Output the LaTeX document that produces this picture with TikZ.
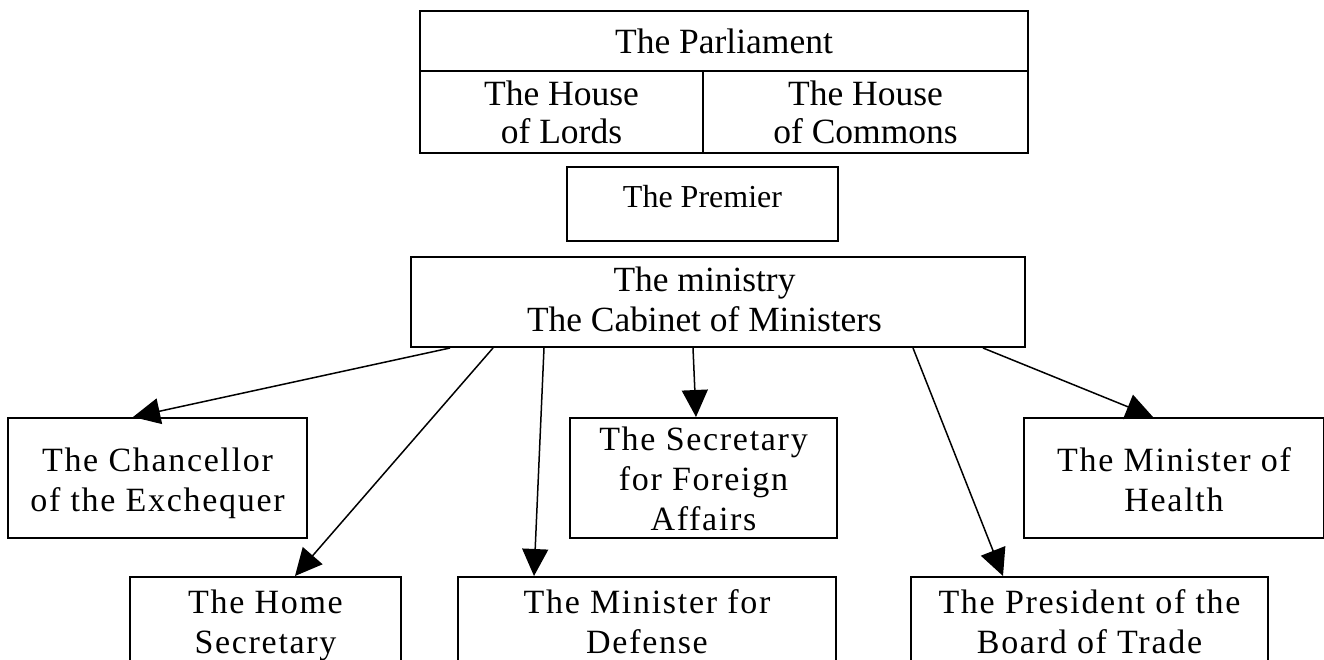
\documentclass[tikz,border=0pt]{standalone}
\usepackage{fontspec}
\setmainfont{Liberation Serif}
\newfontfamily\boxfont[LetterSpace=5]{Liberation Serif}
\usetikzlibrary{arrows.meta}
\tikzset{
  box/.style={draw, line width=2pt, inner sep=0pt, align=center, anchor=north west},
  topfont/.style={font=\fontsize{35.5}{38}\selectfont},
  premfont/.style={font=\fontsize{32}{38}\selectfont},
  minfont/.style={font=\fontsize{35.4}{40}\selectfont},
  lowfont/.style={font=\boxfont\fontsize{34}{40}\selectfont},
  arr/.style={line width=1.5pt, -{Triangle[length=27pt,width=26pt]}},
}
\begin{document}
\begin{tikzpicture}[x=1pt,y=-1pt]
\useasboundingbox (0,0) rectangle (1324,660);
\clip (0,0) rectangle (1324,660);
% Parliament
\node[box, topfont, minimum width=608pt, text height=43pt, text depth=17pt] (parl) at (419,10) {The Parliament};
\node[box, topfont, minimum width=283pt, text height=73pt, text depth=9pt] (lords) at (419,70) {The House\\of Lords};
\node[box, topfont, minimum width=325pt, text height=73pt, text depth=9pt] (commons) at (702,70) {The House\\of Commons};
% Premier
\node[box, premfont, minimum width=271pt, text height=41pt, text depth=33pt] (prem) at (566,166) {The Premier};
% Ministry
\node[box, minfont, minimum width=614pt, text height=74pt, text depth=16pt] (min) at (410,256) {The ministry\hspace*{27pt}\\The Cabinet of Ministers\hspace*{27pt}};
% Ministers
\node[box, lowfont, minimum width=299pt, text height=93pt, text depth=27pt] (chan) at (7,417) {The Chancellor\\of the Exchequer};
\node[box, lowfont, minimum width=267pt, text height=112pt, text depth=8pt] (for) at (569,417) {The Secretary\\for Foreign\\Affairs};
\node[box, lowfont, minimum width=300pt, text height=93pt, text depth=27pt] (hea) at (1023,417) {The Minister of\\Health};
\node[box, lowfont, minimum width=271pt, text height=76pt, text depth=48pt] (home) at (129,576) {The Home\\Secretary};
\node[box, lowfont, minimum width=378pt, text height=76pt, text depth=48pt] (def) at (457,576) {The Minister for\\Defense};
\node[box, lowfont, minimum width=357pt, text height=76pt, text depth=48pt] (trade) at (910,576) {The President of the\\Board of Trade};
% Arrows
\draw[arr] ([xshift=40pt]min.south west) -- ([xshift=126pt]chan.north west);
\draw[arr] ([xshift=83pt]min.south west) -- ([xshift=166pt]home.north west);
\draw[arr] ([xshift=134pt]min.south west) -- ([xshift=77pt]def.north west);
\draw[arr] ([xshift=283pt]min.south west) -- ([xshift=127pt]for.north west);
\draw[arr] ([xshift=503pt]min.south west) -- ([xshift=93pt]trade.north west);
\draw[arr] ([xshift=573pt]min.south west) -- ([xshift=130pt]hea.north west);
\end{tikzpicture}
\end{document}
